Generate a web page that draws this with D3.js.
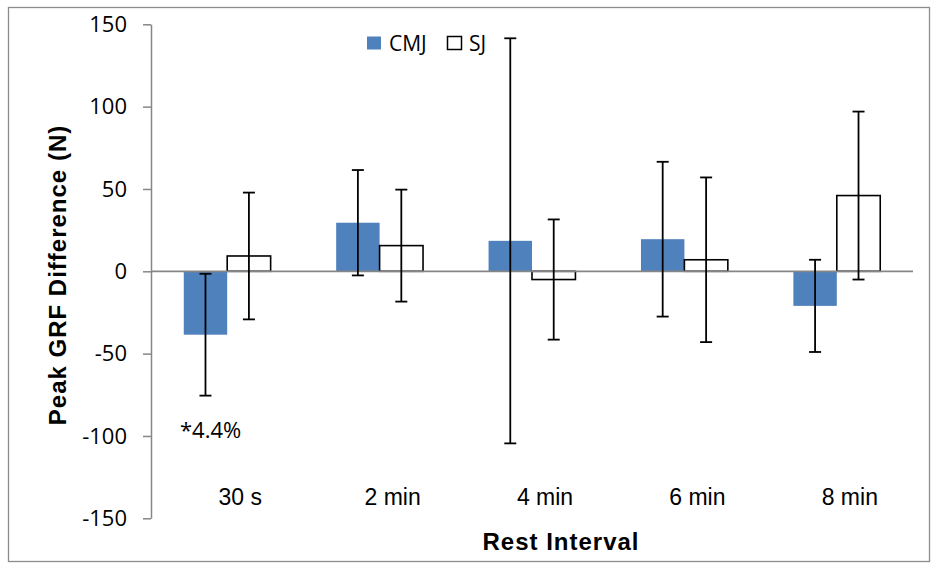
<!DOCTYPE html>
<html>
<head>
<meta charset="utf-8">
<script src="https://cdn.jsdelivr.net/npm/d3@7"></script>
<style>
  body { margin: 0; background: #fff; }
  svg { display: block; }
</style>
</head>
<body>
<div id="chart"></div>
<script>
// data
var categories = ["30 s", "2 min", "4 min", "6 min", "8 min"];
var series = ["CMJ", "SJ"];
var cmjMean = [-38.5, 29.5, 18.5, 19.5, -21];
var cmjErr = [37, 32, 123, 47, 28];
var sjMean = [9.3, 15.6, -5, 7, 46];
var sjErr = [38.5, 34, 36.5, 50, 51];
var yTicks = [-150, -100, -50, 0, 50, 100, 150];

var W = 932, H = 563;
var plot = { left: 151, right: 913, top: 24.3, bottom: 518.3 };

var svg = d3.select("#chart").append("svg")
    .attr("width", W)
    .attr("height", H);

// outer chart frame
svg.append("rect")
    .attr("x", 8.5).attr("y", 7.5)
    .attr("width", 921).attr("height", 554)
    .style("fill", "none")
    .style("stroke", "#8c8c8c")
    .style("stroke-width", 1.3);

var y = d3.scaleLinear().domain([-150, 150]).range([plot.bottom, plot.top]);

var x = d3.scaleBand()
    .domain(categories)
    .range([plot.left, plot.right])
    .paddingInner(0.43)
    .paddingOuter(0.215);

var xs = d3.scaleBand().domain(series).range([0, x.bandwidth()]);

var rows = categories.map(function (c, i) {
    return [
        { cat: c, s: "CMJ", v: cmjMean[i], e: cmjErr[i] },
        { cat: c, s: "SJ", v: sjMean[i], e: sjErr[i] }
    ];
}).flat();

// bars
svg.selectAll("rect.bar")
    .data(rows)
    .enter()
    .append("rect")
    .attr("class", "bar")
    .attr("x", function (d) { return x(d.cat) + xs(d.s); })
    .attr("width", xs.bandwidth())
    .attr("y", function (d) { return y(Math.max(0, d.v)); })
    .attr("height", function (d) { return Math.abs(y(d.v) - y(0)); })
    .style("fill", function (d) { return d.s == "CMJ" ? "#4f81bd" : "#fff"; })
    .style("stroke", function (d) { return d.s == "CMJ" ? "none" : "#000"; })
    .style("stroke-width", 1.6);

// y axis (plain hyphen for negatives, like the original)
var yAxis = svg.append("g")
    .attr("transform", "translate(" + plot.left + ",0)")
    .call(d3.axisLeft(y).tickValues(yTicks).tickFormat(function (d) { return String(d); })
        .tickSize(8).tickSizeOuter(0).tickPadding(16));
yAxis.select(".domain").style("stroke", "#868686").style("stroke-width", 1.5);
yAxis.selectAll(".tick line").style("stroke", "#868686").style("stroke-width", 1.5);
yAxis.selectAll(".tick text")
    .style("font-family", "'Open Sans', sans-serif")
    .style("font-size", "22px")
    .style("fill", "#000");

// zero line
svg.append("line")
    .attr("x1", plot.left).attr("x2", plot.right)
    .attr("y1", y(0)).attr("y2", y(0))
    .style("stroke", "#868686")
    .style("stroke-width", 1.8);

// error bars
var cap = 6;
var eb = svg.selectAll("g.err")
    .data(rows)
    .enter()
    .append("g")
    .attr("class", "err")
    .attr("transform", function (d) { return "translate(" + (x(d.cat) + xs(d.s) + xs.bandwidth() / 2) + ",0)"; })
    .style("stroke", "#000")
    .style("stroke-width", 1.8);
eb.append("line")
    .attr("y1", function (d) { return y(d.v + d.e); })
    .attr("y2", function (d) { return y(d.v - d.e); });
eb.append("line")
    .attr("x1", -cap).attr("x2", cap)
    .attr("y1", function (d) { return y(d.v + d.e); })
    .attr("y2", function (d) { return y(d.v + d.e); });
eb.append("line")
    .attr("x1", -cap).attr("x2", cap)
    .attr("y1", function (d) { return y(d.v - d.e); })
    .attr("y2", function (d) { return y(d.v - d.e); });

// category labels sit low, near the bottom of the plot
var xAxis = svg.append("g")
    .attr("transform", "translate(0,489)")
    .call(d3.axisBottom(x).tickSize(0).tickPadding(0));
xAxis.select(".domain").remove();
xAxis.selectAll(".tick text")
    .attr("dx", 13)
    .style("font-family", "'Liberation Sans', Arial, sans-serif")
    .style("font-size", "23px")
    .style("fill", "#000");

// annotation
svg.append("text")
    .attr("x", 180).attr("y", 438)
    .text("*4.4%")
    .style("font-family", "'Open Sans', sans-serif")
    .style("font-size", "22px");

// axis titles
svg.append("text")
    .attr("transform", "translate(66,275) rotate(-90)")
    .attr("text-anchor", "middle")
    .text("Peak GRF Difference (N)")
    .style("font-family", "'Liberation Sans', Arial, sans-serif")
    .style("font-weight", "bold")
    .style("font-size", "24px")
    .style("letter-spacing", "1px");

svg.append("text")
    .attr("x", 561).attr("y", 550)
    .attr("text-anchor", "middle")
    .text("Rest Interval")
    .style("font-family", "'Liberation Sans', Arial, sans-serif")
    .style("font-weight", "bold")
    .style("font-size", "24px")
    .style("letter-spacing", "1px");

// legend
var legendX = [367, 447];
series.forEach(function (s, i) {
    svg.append("rect")
        .attr("x", legendX[i] + (i ? 0.5 : 0)).attr("y", 36.5)
        .attr("width", 14).attr("height", 13)
        .style("fill", i ? "#fff" : "#4f81bd")
        .style("stroke", i ? "#000" : "none")
        .style("stroke-width", 1.5);
    svg.append("text")
        .attr("x", legendX[i] + 22).attr("y", 50.5)
        .text(s)
        .style("font-family", "'Open Sans', sans-serif")
        .style("font-size", "21px");
});
</script>
</body>
</html>
